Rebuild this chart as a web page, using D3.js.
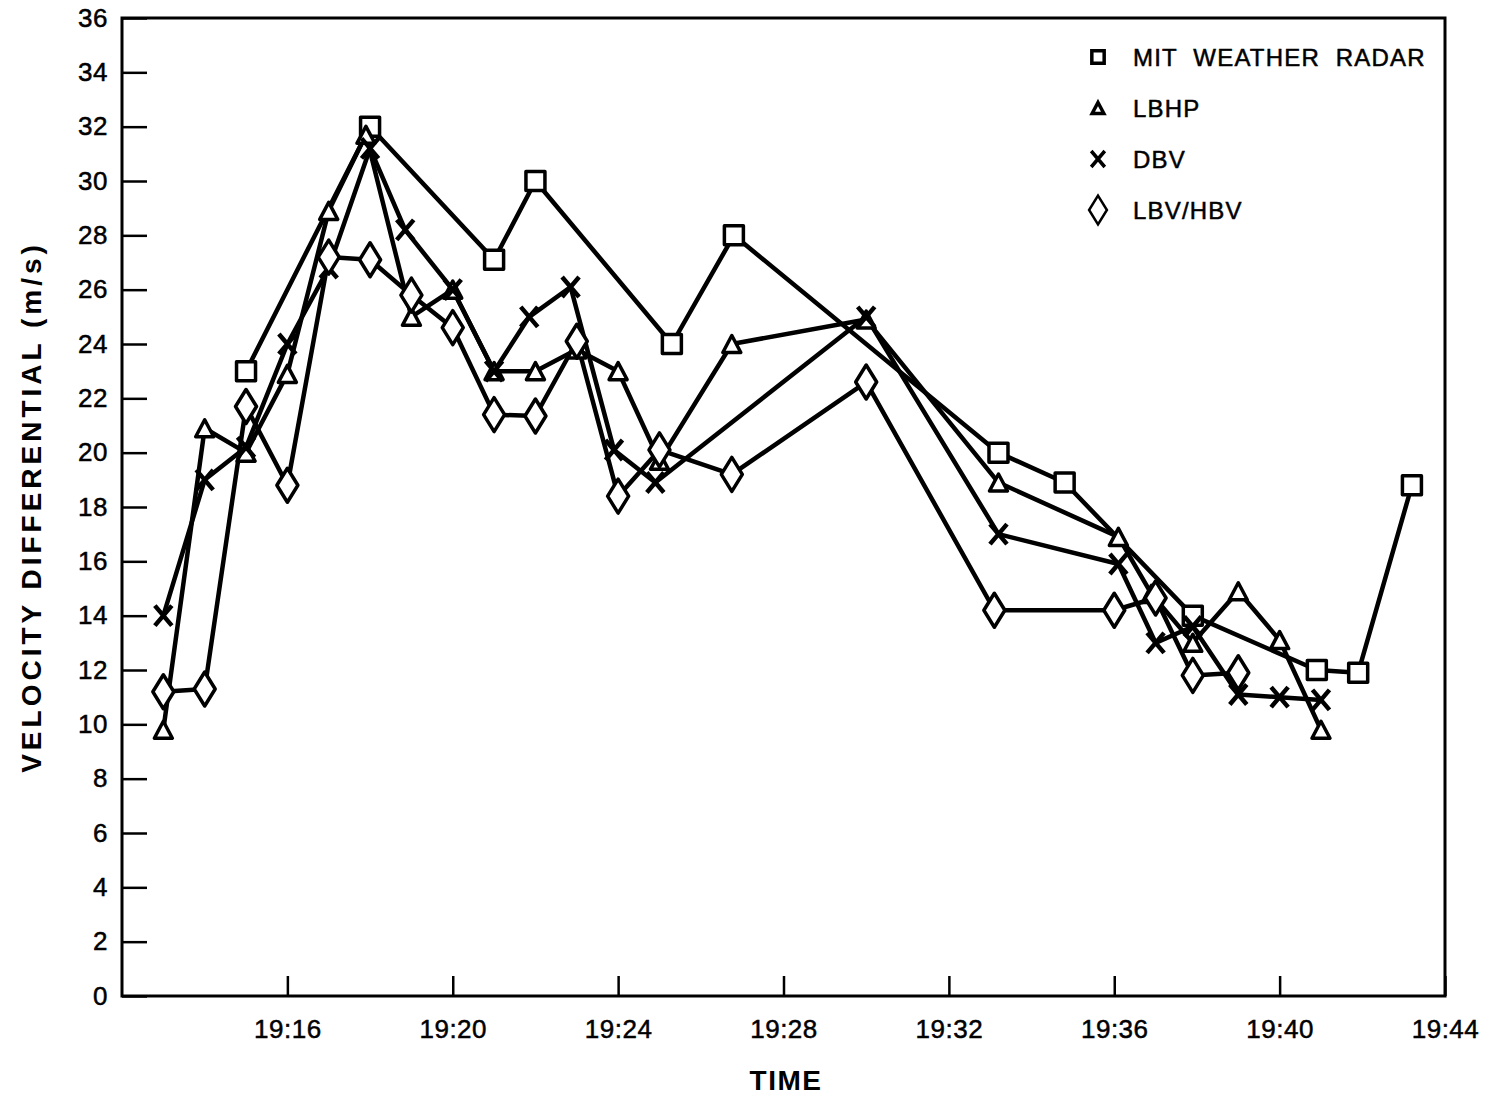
<!DOCTYPE html>
<html>
<head>
<meta charset="utf-8">
<script src="https://cdn.jsdelivr.net/npm/d3@7"></script>
<style>
  body { margin: 0; background: #fff; }
  text { font-family: "Liberation Sans", Arial, sans-serif; fill: #000; }
</style>
</head>
<body>
<div id="chart"></div>
<script>
// times are minutes after 19:00
const mitTime = [15, 18, 21, 22, 25.3, 26.8, 33.2, 34.8, 37.9, 40.9, 41.9, 43.2];
const mitVal  = [23, 32, 27.1, 30, 24, 28, 20, 18.9, 14, 12, 11.9, 18.8];

const lbhpTime = [13, 14, 15, 16, 17, 17.9, 19, 20, 21, 22, 23, 24, 25, 26.75, 30, 33.2, 36.1, 36.9, 37.9, 39, 40, 41];
const lbhpVal  = [9.8, 20.9, 20, 22.9, 28.9, 31.7, 25, 26, 23, 23, 23.8, 23, 19.7, 24, 24.9, 18.9, 16.9, 14.8, 13, 14.9, 13.1, 9.8];

const dbvTime = [13, 14, 15, 16, 17, 18, 18.85, 20, 21, 21.85, 22.85, 23.9, 24.9, 30, 33.2, 36.1, 37, 37.9, 39, 40, 41];
const dbvVal  = [14, 19, 20.2, 24, 26.8, 31.2, 28.2, 26, 23, 25, 26.1, 20.1, 18.9, 25, 17, 15.9, 13, 13.6, 11.1, 11, 10.9];

const lbvTime = [13, 14, 15, 16, 17, 18, 19, 20, 21, 22, 23, 24, 25, 26.75, 30, 33.1, 36, 37, 37.9, 39];
const lbvVal  = [11.2, 11.3, 21.7, 18.8, 27.2, 27.1, 25.8, 24.6, 21.4, 21.35, 24.1, 18.4, 20.1, 19.2, 22.6, 14.2, 14.2, 14.65, 11.8, 11.9];

const yTicks = d3.range(0, 37, 2);
const xTicks = [16, 20, 24, 28, 32, 36, 40, 44];

const series = [
  {name: "MIT WEATHER RADAR", shape: "square", time: mitTime, value: mitVal},
  {name: "LBHP", shape: "triangle", time: lbhpTime, value: lbhpVal},
  {name: "DBV", shape: "cross", time: dbvTime, value: dbvVal},
  {name: "LBV/HBV", shape: "diamond", time: lbvTime, value: lbvVal}
];

const width = 1490, height = 1096;
const plotL = 122, plotR = 1445, plotT = 18, plotB = 996;

const x = d3.scaleLinear().domain([12, 44]).range([plotL, plotR]);
const y = d3.scaleLinear().domain([0, 36]).range([plotB, plotT]);

// marker outlines, centred on 0,0; k scales them down for the legend
function marker(shape, k) {
  k = k || 1;
  if (shape === "square") {
    const s = 9.5 * k;
    return `M${-s},${-s}H${s}V${s}H${-s}Z`;
  }
  if (shape === "triangle") {
    const w = 9 * k, h = 8.5 * k;
    return `M0,${-h}L${w},${h}L${-w},${h}Z`;
  }
  if (shape === "diamond") {
    const w = 10.5 * k, h = 17 * k;
    return `M0,${-h}L${w},0L0,${h}L${-w},0Z`;
  }
  const c = 8.5 * k, d = 10 * k;
  return `M${-c},${-d}L${c},${d}M${c},${-d}L${-c},${d}`;
}

const svg = d3.create("svg")
  .attr("width", width)
  .attr("height", height)
  .attr("viewBox", [0, 0, width, height]);

svg.append("rect")
  .attr("width", width).attr("height", height)
  .attr("fill", "#fff");

// y axis, ticks pointing inward
const yAxis = svg.append("g")
  .attr("transform", `translate(${plotL},0)`)
  .call(d3.axisLeft(y).tickValues(yTicks).tickSize(-25).tickPadding(14));
yAxis.select(".domain").remove();
yAxis.selectAll("line").attr("stroke", "#000").attr("stroke-width", 2.5);
yAxis.selectAll("text").attr("font-size", 26).attr("letter-spacing", 0.5)
  .attr("stroke", "#000").attr("stroke-width", 0.5)
  .attr("font-family", "'Liberation Sans', Arial, sans-serif");

const xAxis = svg.append("g")
  .attr("transform", `translate(0,${plotB})`)
  .call(d3.axisBottom(x).tickValues(xTicks).tickSize(-20).tickPadding(24)
    .tickFormat(d => "19:" + d));
xAxis.select(".domain").remove();
xAxis.selectAll("line").attr("stroke", "#000").attr("stroke-width", 2.5);
xAxis.selectAll("text").attr("font-size", 26).attr("letter-spacing", 0.5)
  .attr("stroke", "#000").attr("stroke-width", 0.5)
  .attr("font-family", "'Liberation Sans', Arial, sans-serif");

svg.append("rect")
  .attr("x", plotL).attr("y", plotT)
  .attr("width", plotR - plotL).attr("height", plotB - plotT)
  .attr("fill", "none")
  .attr("stroke", "#000")
  .attr("stroke-width", 3);

// axis titles
svg.append("text")
  .attr("transform", `translate(41,507) rotate(-90)`)
  .attr("text-anchor", "middle")
  .attr("font-size", 28)
  .attr("font-weight", "bold")
  .attr("letter-spacing", 4)
  .text("VELOCITY DIFFERENTIAL (m/s)");

svg.append("text")
  .attr("x", 786).attr("y", 1090)
  .attr("text-anchor", "middle")
  .attr("font-size", 28)
  .attr("font-weight", "bold")
  .attr("letter-spacing", 1.5)
  .text("TIME");

const line = d3.line()
  .x(d => x(d[0]))
  .y(d => y(d[1]));

const pts = s => s.time.map((t, i) => [t, s.value[i]]);

svg.append("g")
  .selectAll("path")
  .data(series)
  .join("path")
  .attr("d", s => line(pts(s)))
  .attr("fill", "none")
  .attr("stroke", "#000")
  .attr("stroke-width", 4.5)
  .attr("stroke-linejoin", "round");

const markers = svg.append("g")
  .selectAll("g")
  .data(series)
  .join("g");

markers.selectAll("path")
  .data(s => pts(s).map(p => ({p, shape: s.shape})))
  .join("path")
  .attr("transform", d => `translate(${x(d.p[0])},${y(d.p[1])})`)
  .attr("d", d => marker(d.shape))
  .attr("fill", d => d.shape === "cross" ? "none" : "#fff")
  .attr("stroke", "#000")
  .attr("stroke-width", d => d.shape === "cross" ? 4.5 : 3.5)
  .attr("stroke-linejoin", "round");

// legend
const legendScale = {square: 0.65, triangle: 0.65, cross: 0.8, diamond: 0.85};

const legend = svg.append("g")
  .selectAll("g")
  .data(series)
  .join("g")
  .attr("transform", (d, i) => `translate(1098,${57 + i * 51})`);

legend.append("path")
  .attr("d", d => marker(d.shape, legendScale[d.shape]))
  .attr("fill", d => d.shape === "cross" ? "none" : "#fff")
  .attr("stroke", "#000")
  .attr("stroke-width", d => d.shape === "diamond" ? 2.5 : 3.5);

legend.append("text")
  .attr("x", 35)
  .attr("y", 9)
  .attr("font-size", 24)
  .attr("letter-spacing", 1.2)
  .attr("word-spacing", 8)
  .attr("stroke", "#000")
  .attr("stroke-width", 0.5)
  .text(d => d.name);

document.getElementById("chart").append(svg.node());
</script>
</body>
</html>
